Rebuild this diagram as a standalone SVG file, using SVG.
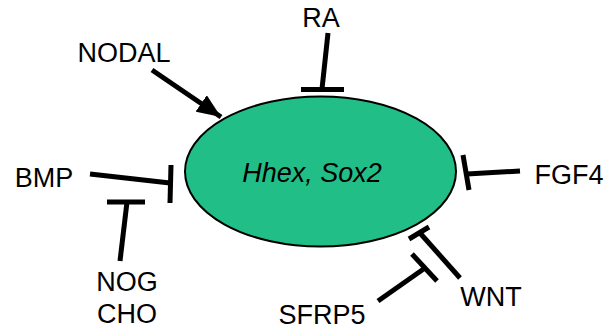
<svg xmlns="http://www.w3.org/2000/svg" width="604" height="332" viewBox="0 0 604 332">
<style>
text{font-family:"Liberation Sans",Arial,sans-serif;font-size:27px;fill:#000}
.l{stroke:#000;stroke-width:5;fill:none;stroke-linecap:butt}
</style>
<defs>
<marker id="ah" markerUnits="userSpaceOnUse" viewBox="0 0 24 20" refX="24" refY="10" markerWidth="24" markerHeight="20" orient="auto">
<path d="M0,0 L24,10 L0,20 Z" fill="#000"/>
</marker>
</defs>
<rect width="604" height="332" fill="#fff"/>
<g id="center">
<ellipse cx="320.5" cy="171.5" rx="135.5" ry="75" fill="#21bf87" stroke="#000" stroke-width="2"/>
<text x="312" y="182" text-anchor="middle" font-style="italic">Hhex, Sox2</text>
</g>
<g id="nodal"><text x="124" y="62" text-anchor="middle">NODAL</text></g>
<g id="ra"><text x="321" y="27" text-anchor="middle">RA</text></g>
<g id="bmp"><text x="44" y="187" text-anchor="middle">BMP</text></g>
<g id="fgf4"><text x="569" y="184" text-anchor="middle">FGF4</text></g>
<g id="nogcho"><text x="127" y="291" text-anchor="middle">NOG</text><text x="127" y="323" text-anchor="middle">CHO</text></g>
<g id="wnt"><text x="491" y="306" text-anchor="middle">WNT</text></g>
<g id="sfrp5"><text x="322" y="324" text-anchor="middle">SFRP5</text></g>
<g id="connectors">
<line class="l" x1="152" y1="70" x2="221" y2="117" marker-end="url(#ah)"/>
<line class="l" x1="328" y1="33" x2="322" y2="89"/>
<line class="l" x1="301" y1="89.5" x2="344" y2="89.5"/>
<line class="l" x1="90" y1="174" x2="170" y2="183"/>
<line class="l" x1="171" y1="165" x2="170" y2="203"/>
<line class="l" x1="520" y1="171" x2="467" y2="174"/>
<line class="l" x1="463" y1="155" x2="469" y2="190"/>
<line class="l" x1="120" y1="261" x2="127" y2="202"/>
<line class="l" x1="107" y1="202" x2="145" y2="202"/>
<line class="l" x1="460" y1="278" x2="420" y2="233"/>
<line class="l" x1="409" y1="239" x2="429" y2="227"/>
<line class="l" x1="378" y1="301" x2="425" y2="268"/>
<line class="l" x1="412" y1="254" x2="437" y2="281"/>
</g>
</svg>
